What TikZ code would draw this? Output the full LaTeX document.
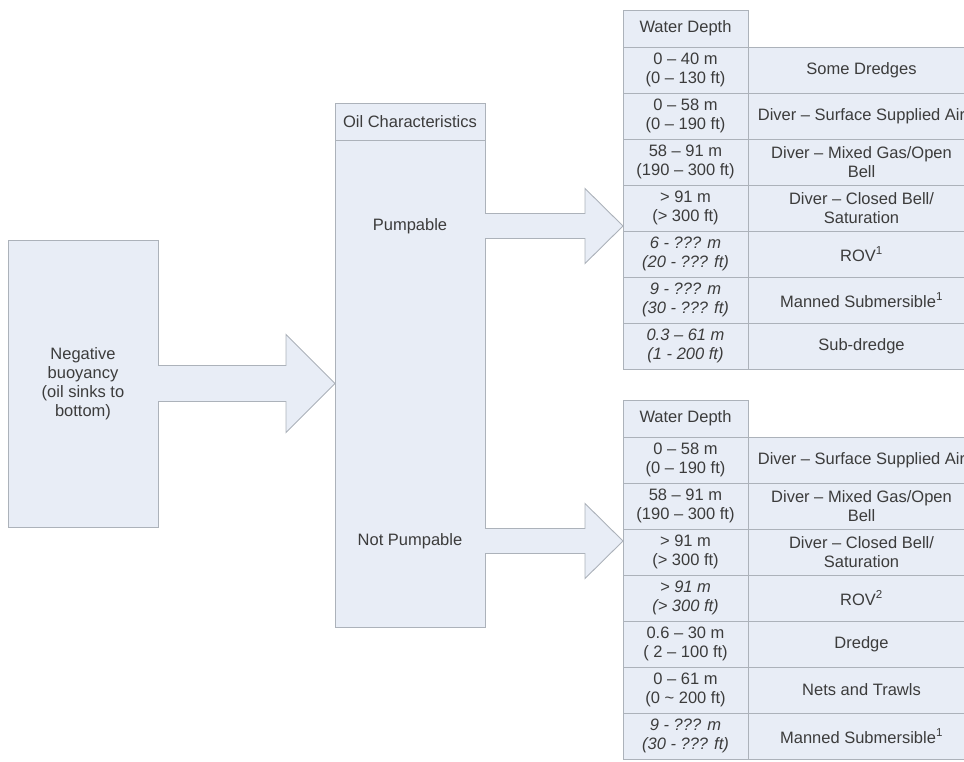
\documentclass[tikz,border=0pt]{standalone}
\usepackage{fontspec}
\setmainfont{Liberation Sans}
\usetikzlibrary{positioning,calc}
\definecolor{boxfill}{RGB}{232,237,246}
\definecolor{linegray}{RGB}{172,178,186}
\definecolor{textgray}{RGB}{60,60,60}

\begin{document}
\begin{tikzpicture}[x=1pt,y=1pt,
box/.style={draw=linegray,fill=boxfill,line width=0.9pt,outer sep=0pt,inner sep=2pt,
  align=center,text=textgray,font=\fontsize{16.5}{19}\selectfont},
itl/.style={font=\fontsize{16.5}{19}\selectfont\itshape},
hd/.style={box,minimum width=125pt,minimum height=37pt},
dep/.style={box,minimum width=125pt,minimum height=46pt},
meth/.style={box,minimum width=227pt,minimum height=46pt},
lbl/.style={text=textgray,font=\fontsize{16.5}{19}\selectfont},
blockarr/.style={draw=linegray,fill=boxfill,line width=0.9pt,line join=miter}]
\useasboundingbox (0,0) rectangle (964,-762);

% left box and oil characteristics
\node[box,minimum width=150pt,minimum height=287pt] (neg) at (83,-383.5)
  {Negative\\buoyancy\\(oil sinks to\\bottom)};
\node[box,minimum width=150pt,minimum height=37pt] (oilhead) at (410,-121.5) {Oil Characteristics};
\node[box,minimum width=150pt,minimum height=487pt,below=0pt of oilhead] (oilbody) {};
\node[lbl] (pump) at (410,-226) {Pumpable};
\node[lbl] (notpump) at (410,-541) {Not Pumpable};

% pumpable table
\node[hd] (ta0) at (685.5,-28.5) {Water Depth};
\node[dep,below=0pt of ta0] (ta1) {0 – 40 m\\(0 – 130 ft)};
\node[meth,right=0pt of ta1] (ma1) {Some Dredges};
\node[dep,below=0pt of ta1] (ta2) {0 – 58 m\\(0 – 190 ft)};
\node[meth,right=0pt of ta2] (ma2) {Diver – Surface Supplied Air};
\node[dep,below=0pt of ta2] (ta3) {58 – 91 m\\(190 – 300 ft)};
\node[meth,right=0pt of ta3] (ma3) {Diver – Mixed Gas/Open\\Bell};
\node[dep,below=0pt of ta3] (ta4) {> 91 m\\(> 300 ft)};
\node[meth,right=0pt of ta4] (ma4) {Diver – Closed Bell/\\Saturation};
\node[dep,itl,below=0pt of ta4] (ta5) {6 - ??? m\\(20 - ??? ft)};
\node[meth,right=0pt of ta5] (ma5) {ROV\textsuperscript{1}};
\node[dep,itl,below=0pt of ta5] (ta6) {9 - ??? m\\(30 - ??? ft)};
\node[meth,right=0pt of ta6] (ma6) {Manned Submersible\textsuperscript{1}};
\node[dep,itl,below=0pt of ta6] (ta7) {0.3 – 61 m\\(1 - 200 ft)};
\node[meth,right=0pt of ta7] (ma7) {Sub-dredge};

% not pumpable table
\node[hd] (tb0) at (685.5,-418.5) {Water Depth};
\node[dep,below=0pt of tb0] (tb1) {0 – 58 m\\(0 – 190 ft)};
\node[meth,right=0pt of tb1] (mb1) {Diver – Surface Supplied Air};
\node[dep,below=0pt of tb1] (tb2) {58 – 91 m\\(190 – 300 ft)};
\node[meth,right=0pt of tb2] (mb2) {Diver – Mixed Gas/Open\\Bell};
\node[dep,below=0pt of tb2] (tb3) {> 91 m\\(> 300 ft)};
\node[meth,right=0pt of tb3] (mb3) {Diver – Closed Bell/\\Saturation};
\node[dep,itl,below=0pt of tb3] (tb4) {> 91 m\\(> 300 ft)};
\node[meth,right=0pt of tb4] (mb4) {ROV\textsuperscript{2}};
\node[dep,below=0pt of tb4] (tb5) {0.6 – 30 m\\( 2 – 100 ft)};
\node[meth,right=0pt of tb5] (mb5) {Dredge};
\node[dep,below=0pt of tb5] (tb6) {0 – 61 m\\(0 \textasciitilde{} 200 ft)};
\node[meth,right=0pt of tb6] (mb6) {Nets and Trawls};
\node[dep,itl,below=0pt of tb6] (tb7) {9 - ??? m\\(30 - ??? ft)};
\node[meth,right=0pt of tb7] (mb7) {Manned Submersible\textsuperscript{1}};

% block arrows
\draw[blockarr] ($(neg.east)+(0,18)$) -- ($(oilbody.west)+(-49,18)$) -- ++(0,31)
  -- (oilbody.west) -- ++(-49,-49) -- ++(0,31) -- ($(neg.east)+(0,-18)$);
\draw[blockarr] ($(oilbody.east |- pump)+(0,12.5)$) -- ($(ta1.west |- pump)+(-38,12.5)$) -- ++(0,25)
  -- (ta1.west |- pump) -- ++(-38,-37.5) -- ++(0,25) -- ($(oilbody.east |- pump)+(0,-12.5)$);
\draw[blockarr] ($(oilbody.east |- notpump)+(0,12.5)$) -- ($(tb1.west |- notpump)+(-38,12.5)$) -- ++(0,25)
  -- (tb1.west |- notpump) -- ++(-38,-37.5) -- ++(0,25) -- ($(oilbody.east |- notpump)+(0,-12.5)$);
\end{tikzpicture}
\end{document}
